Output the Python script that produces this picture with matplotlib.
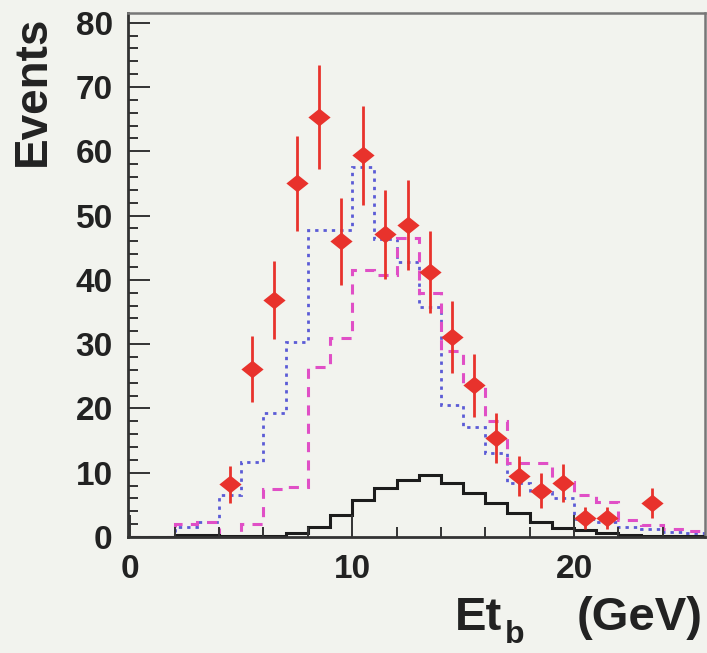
import matplotlib
matplotlib.use('Agg')
import matplotlib.pyplot as plt
from matplotlib.ticker import MultipleLocator

# ---------------- data ----------------
bin_edges = list(range(0, 27))

blue_dotted = [0, 0, 1.5, 2.3, 6.5, 11.7, 19.3, 30.3, 47.7, 47.7, 57.5, 46.3, 42.8,
               35.8, 20.5, 17.1, 13.0, 8.4, 7.0, 6.0, 2.8, 2.3, 1.6, 1.2, 0.8, 0.6]

magenta_dashed = [0, 0, 2.0, 2.3, 0, 2.0, 7.5, 7.8, 26.4, 31.0, 41.5, 40.8, 46.5,
                  38.0, 29.0, 24.0, 18.0, 11.5, 11.5, 8.5, 6.5, 5.5, 2.6, 1.9, 1.2, 1.0]

black_solid = [0, 0, 0.3, 0.3, 0.2, 0.1, 0.2, 0.6, 1.5, 3.4, 5.7, 7.6, 8.9,
               9.6, 8.4, 6.8, 5.3, 3.7, 2.3, 1.4, 1.1, 0.6, 0.3, 0.2, 0.1, 0.1]

data_x = [4.5, 5.5, 6.5, 7.5, 8.5, 9.5, 10.5, 11.5, 12.5, 13.5, 14.5,
          15.5, 16.5, 17.5, 18.5, 19.5, 20.5, 21.5, 23.5]
data_y = [8.2, 26.1, 36.9, 55.0, 65.3, 46.0, 59.4, 47.1, 48.6, 41.2, 31.1,
          23.6, 15.4, 9.5, 7.2, 8.4, 3.0, 3.0, 5.3]
data_err = [2.9, 5.1, 6.1, 7.4, 8.1, 6.8, 7.7, 6.9, 7.0, 6.4, 5.6,
            4.9, 3.9, 3.1, 2.7, 2.9, 1.7, 1.7, 2.3]

x_label_main = 'Et'
x_label_sub = 'b'
x_label_unit = '(GeV)'
y_label = 'Events'

# ---------------- style ----------------
BG = '#f2f3ee'
RED = '#e8322c'
BLUE = '#5b5bd6'
MAGENTA = '#e04fc6'
BLACK = '#1c1c1c'
TXT = '#222222'

plt.rcParams['font.family'] = ['Liberation Sans', 'DejaVu Sans']
plt.rcParams['font.weight'] = 'bold'

W, H = 707, 653
fig = plt.figure(figsize=(W / 100, H / 100), dpi=100, facecolor=BG)
ax = fig.add_axes([128 / W, (H - 537) / H, (705 - 128) / W, (537 - 13) / H])
ax.set_facecolor(BG)

ax.stairs(blue_dotted, bin_edges, color=BLUE, lw=2.0, linestyle=(0, (1.2, 1.8)))
ax.stairs(magenta_dashed, bin_edges, color=MAGENTA, lw=2.2, linestyle=(0, (3.3, 2.7)))
ax.stairs(black_solid, bin_edges, color=BLACK, lw=2.2)

ax.errorbar(data_x, data_y, yerr=data_err, fmt='none', ecolor=RED,
            elinewidth=2.0, capsize=0, zorder=5)
diamond = [(-1.25, 0), (0, 1), (1.25, 0), (0, -1), (-1.25, 0)]
ax.plot(data_x, data_y, linestyle='none', marker=diamond, markersize=16,
        color=RED, markeredgewidth=0, zorder=6)

ax.set_xlim(-0.1, 25.9)
ax.set_ylim(0, 81.5)

ax.xaxis.set_major_locator(MultipleLocator(10))
ax.xaxis.set_minor_locator(MultipleLocator(2))
ax.yaxis.set_major_locator(MultipleLocator(10))
ax.yaxis.set_minor_locator(MultipleLocator(2))

ax.tick_params(which='both', direction='in', top=False, right=False,
               color='#333333', width=1.4)
ax.tick_params(which='major', length=16)
ax.tick_params(which='minor', length=7)
ax.tick_params(axis='y', which='major', labelsize=24, pad=11, labelcolor=TXT)
ax.tick_params(axis='x', which='major', labelsize=24, pad=12, labelcolor=TXT)
for lbl in ax.get_xticklabels() + ax.get_yticklabels():
    lbl.set_fontweight('bold')

for side in ['left', 'bottom']:
    ax.spines[side].set_color('#333333')
    ax.spines[side].set_linewidth(2.0)
for side in ['top', 'right']:
    ax.spines[side].set_color('#777777')
    ax.spines[side].set_linewidth(1.8)

# x-axis title, ROOT style: "Et" with a low subscript "b", then the unit
fig.text(455 / W, (H - 630) / H, x_label_main, fontsize=34, fontweight='bold',
         color=TXT, ha='left', va='baseline')
fig.text(505 / W, (H - 643) / H, x_label_sub, fontsize=23, fontweight='bold',
         color=TXT, ha='left', va='baseline')
fig.text(703 / W, (H - 630) / H, x_label_unit, fontsize=34, fontweight='bold',
         color=TXT, ha='right', va='baseline')

ax.set_ylabel(y_label, fontsize=33, fontweight='bold', color=TXT, loc='top')
ax.yaxis.set_label_coords(-0.127, 0.995)

fig.savefig('out.png', dpi=100, facecolor=BG)
